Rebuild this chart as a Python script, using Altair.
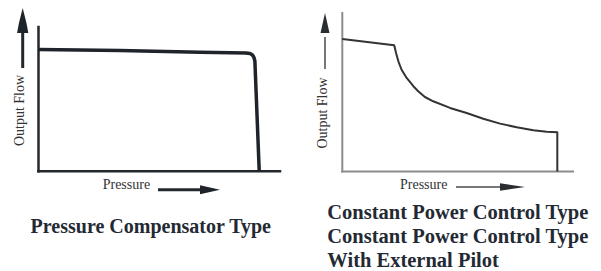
import altair as alt
import pandas as pd

# ---- data (pressure / flow in % of axis length) ----
left_pressure = [0, 33.7, 66.9, 85.9, 87.6, 88.6, 89.2, 89.6, 91.4]
left_flow = [84.4, 83.7, 82.5, 82.0, 81.6, 80.6, 78.9, 76.4, 0]

right_pressure = [0, 22.5, 23.3, 24.3, 25.7, 27.9, 30.8, 32.9, 35.8, 39.4, 46.7,
                  53.9, 61.1, 68.4, 75.6, 82.8, 88.6, 93.2, 93.2]
right_flow = [83.6, 79.6, 74.8, 69.5, 64.2, 59.0, 53.8, 50.6, 47.0, 44.3, 40.1,
              36.9, 33.3, 30.2, 27.9, 26.0, 25.1, 24.7, 0]

x_label = "Pressure"
y_label = "Output Flow"
left_title = "Pressure Compensator Type"
right_title = ["Constant Power Control Type", "Constant Power Control Type",
               "With External Pilot"]

FONT = "Liberation Serif"
one = pd.DataFrame({"a": [0]})


def panel(pressure, flow, g):
    xs = alt.Scale(domain=[0, 100], range=g["xr"], nice=False, zero=False)
    ys = alt.Scale(domain=[0, 100], range=g["yr"], nice=False, zero=False)
    curve_df = pd.DataFrame({"p": pressure, "f": flow, "i": range(len(pressure))})
    curve = alt.Chart(curve_df).mark_line(
        color=g["curve_color"], strokeWidth=g["curve_w"], strokeJoin="round", strokeCap="butt"
    ).encode(
        x=alt.X("p:Q", scale=xs, axis=None),
        y=alt.Y("f:Q", scale=ys, axis=None),
        order="i:O",
    )
    axes_df = pd.DataFrame({"p": [0, 0], "f": [0, 0], "p2": [0, 100], "f2": [100, 0]})
    axes = alt.Chart(axes_df).mark_rule(
        color=g["axis_color"], strokeWidth=g["axis_w"], strokeCap="square"
    ).encode(
        x=alt.X("p:Q", scale=xs, axis=None), x2="p2",
        y=alt.Y("f:Q", scale=ys, axis=None), y2="f2",
    )
    # arrow shafts
    up_shaft = alt.Chart(one).mark_rule(color=g["arrow_color"], strokeWidth=g["arrow_w"]).encode(
        x=alt.value(g["up_x"]), y=alt.value(g["up_y0"]), y2=alt.value(g["up_y1"]))
    rt_shaft = alt.Chart(one).mark_rule(color=g["arrow_color"], strokeWidth=g["arrow_w"]).encode(
        x=alt.value(g["rt_x0"]), x2=alt.value(g["rt_x1"]), y=alt.value(g["rt_y"]))
    up_head = alt.Chart(one).mark_point(
        shape=g["up_path"], filled=True, opacity=1, color=g["head_color"], size=g["up_size"], strokeWidth=0
    ).encode(x=alt.value(g["up_x"]), y=alt.value(g["up_hy"]))
    rt_head = alt.Chart(one).mark_point(
        shape=g["rt_path"], filled=True, opacity=1, color=g["head_color"], size=g["rt_size"], strokeWidth=0
    ).encode(x=alt.value(g["rt_hx"]), y=alt.value(g["rt_y"]))
    ylab = alt.Chart(one).mark_text(
        text=y_label, font=FONT, fontSize=14, angle=270, align="center", baseline="middle", color="#333333"
    ).encode(x=alt.value(g["yl_x"]), y=alt.value(g["yl_y"]))
    xlab = alt.Chart(one).mark_text(
        text=x_label, font=FONT, fontSize=14, align="left", baseline="alphabetic", color="#333333"
    ).encode(x=alt.value(g["xl_x"]), y=alt.value(g["xl_y"]))
    title = alt.Chart(one).mark_text(
        text=g["title"], font=FONT, fontSize=g["t_size"], fontWeight="bold", align=g["t_align"],
        baseline="alphabetic", lineHeight=24, color="#242a33"
    ).encode(x=alt.value(g["t_x"]), y=alt.value(g["t_y"]))
    return alt.layer(axes, curve, up_shaft, rt_shaft, up_head, rt_head, ylab, xlab, title).properties(
        width=g["w"], height=g["h"]
    )


left_cfg = dict(
    xr=[30.5, 272], yr=[160.3, 16], curve_color="#1f242b", curve_w=3.5,
    axis_color="#23282e", axis_w=2.5, arrow_color="#23282e", head_color="#1f242b", arrow_w=3,
    up_x=14.7, up_y0=20, up_y1=57, up_hy=9.5, up_size=625, up_path="M0,-1L0.3,0.2L0.45,1L-0.45,1L-0.3,0.2Z",
    rt_x0=150, rt_x1=194, rt_y=178.7, rt_hx=202, rt_size=400, rt_path="M1,0L-1,-0.45L-1,0.45Z",
    yl_x=12, yl_y=99.5, xl_x=94.7, xl_y=177.7,
    title=left_title, t_size=20, t_align="center", t_x=142.8, t_y=222, w=292, h=262,
)
right_cfg = dict(
    xr=[42.3, 273], yr=[160.5, 2], curve_color="#333333", curve_w=2,
    axis_color="#8c8c8c", axis_w=2, arrow_color="#777777", head_color="#2a2e33", arrow_w=2,
    up_x=25, up_y0=26, up_y1=58, up_hy=12, up_size=400, up_path="M0,-1L0.45,1L-0.45,1Z",
    rt_x0=156, rt_x1=204, rt_y=176, rt_hx=212.5, rt_size=625, rt_path="M1,0L-1,-0.3L-1,0.3Z",
    yl_x=23, yl_y=102, xl_x=100, xl_y=178,
    title=right_title, t_size=20.5, t_align="left", t_x=27.3, t_y=207.7, w=293, h=262,
)

chart = alt.hconcat(
    panel(left_pressure, left_flow, left_cfg),
    panel(right_pressure, right_flow, right_cfg),
    spacing=0, bounds="flush",
).properties(padding=0).configure_view(stroke=None).configure_concat(spacing=0)

chart.save("out.html", embed_options={"renderer": "svg", "actions": False})
